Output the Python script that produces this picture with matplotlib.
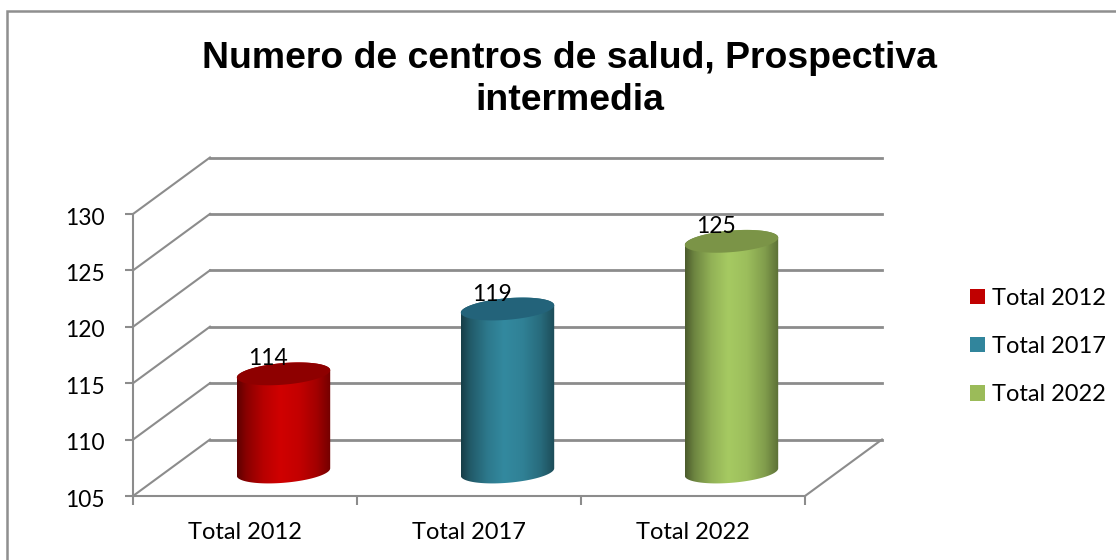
import numpy as np
import matplotlib
matplotlib.use("Agg")
import matplotlib.pyplot as plt
from matplotlib.path import Path
from matplotlib.patches import PathPatch, Patch, Rectangle
from matplotlib.colors import to_rgb
from matplotlib.transforms import offset_copy, ScaledTranslation

# ---- data ----
categories = ["Total 2012", "Total 2017", "Total 2022"]
values = [113.7, 119.45, 125.45]
y_ticks = [105, 110, 115, 120, 125, 130]
title = "Numero de centros de salud, Prospectiva\nintermedia"

# ---- styles ----
body_colors = ["#d00000", "#33899f", "#a6ca62"]
cap_colors = ["#8e0000", "#23637a", "#7b9447"]
legend_colors = ["#c00000", "#31859c", "#9bbb59"]
GRID = "#8c8c8c"
W, H = 1116, 560
L, R, B, T = 133, 805, 496, 214   # front plane, px
DEPTH = (77, 56.5)
CYL = (38.5, 24)

plt.rcParams["font.family"] = ["Lato", "DejaVu Sans"]
fig = plt.figure(figsize=(W / 100, H / 100), dpi=100, facecolor="white")
ax = fig.add_axes([L / W, 1 - B / H, (R - L) / W, (B - T) / H])
ax.patch.set_visible(False)
ax.set_axisbelow(True)

# outer frame
fig.add_artist(Rectangle((7 / W, -0.1), 1.2, 1.1 - 11 / H, transform=fig.transFigure,
                         fill=False, ec="#8f8f8f", lw=1.8))

xlim = (-0.5, len(categories) - 0.5)
ylim = (y_ticks[0], y_ticks[-1])
back = offset_copy(ax.transData, fig, x=DEPTH[0], y=DEPTH[1], units="dots")
cyl = offset_copy(ax.transData, fig, x=CYL[0], y=CYL[1], units="dots")

# 3-D walls
px_x = (R - L) / (xlim[1] - xlim[0])
px_y = (B - T) / (ylim[1] - ylim[0])
dx, dy = DEPTH[0] / px_x, DEPTH[1] / px_y
for v in y_ticks:
    ax.plot(xlim, [v, v], color=GRID, lw=2.0, transform=back, clip_on=False, zorder=1)
    ax.plot([xlim[0], xlim[0] + dx], [v, v + dy], color=GRID, lw=1.5, clip_on=False, zorder=1)
ax.plot([xlim[1], xlim[1] + dx], [ylim[0], ylim[0] + dy], color=GRID, lw=1.5, clip_on=False, zorder=1)

# cylinders
half_w = 46.7 / px_x
b = 10.8 / px_y
k = 3.7 / px_y
t = np.linspace(0, 2 * np.pi, 121)


def ellipse(cx, cy):
    return cx + half_w * np.cos(t), cy + b * np.sin(t) + k * np.cos(t)


stops = np.array([0, 0.1, 0.28, 0.46, 0.66, 0.85, 1])
gains = np.array([0.45, 0.66, 0.88, 1.0, 0.94, 0.78, 0.55])
ramp = np.interp(np.linspace(0, 1, 256), stops, gains)
for i, v in enumerate(values):
    xt, yt = ellipse(i, v)
    lower = t[(t >= np.pi)]
    xs_low = i + half_w * np.cos(lower)
    ys_low = ylim[0] + b * np.sin(lower) + k * np.cos(lower)
    upper = t[(t <= np.pi)]
    xs_up = i + half_w * np.cos(upper)
    ys_up = v + b * np.sin(upper) + k * np.cos(upper)
    verts = np.column_stack([np.r_[xs_low, xs_up], np.r_[ys_low, ys_up]])
    body = PathPatch(Path(np.vstack([verts, verts[0]]), closed=True), transform=cyl,
                     fc="none", ec="none")
    ax.add_patch(body)
    img = ramp[None, :, None] * np.array(to_rgb(body_colors[i]))[None, None, :]
    im = ax.imshow(np.clip(img, 0, 1), extent=[i - half_w, i + half_w, ylim[0] - 2, v + 2],
                   aspect="auto", transform=cyl, zorder=3, interpolation="bilinear")
    im.set_clip_path(body)
    ax.fill(xt, yt, color=cap_colors[i], lw=0, transform=cyl, zorder=4, clip_on=False)
    ax.annotate(f"{v:.0f}", (i, v), xycoords=cyl, xytext=(-16, 15), textcoords="offset pixels",
                ha="center", va="center", fontsize=16.5, color="black", zorder=5)

ax.set_xlim(xlim)
ax.set_ylim(ylim)

# axes
for s in ("top", "right"):
    ax.spines[s].set_visible(False)
for s in ("left", "bottom"):
    ax.spines[s].set_color(GRID)
    ax.spines[s].set_linewidth(1.5)
ax.set_yticks(y_ticks)
ax.set_xticks(np.arange(xlim[0], xlim[1] + 0.5, 1))
ax.set_xticklabels([])
ax.set_xticks(range(len(categories)), categories, minor=True)
ax.tick_params(axis="x", which="major", length=6.5, width=1.5, color=GRID)
ax.tick_params(axis="x", which="minor", length=0, labelsize=17, pad=18.7)
ax.tick_params(axis="y", length=6, width=1.5, color=GRID, labelsize=16.4, pad=14)
shift = ScaledTranslation(0, -2 / 100, fig.dpi_scale_trans)
for lab in ax.get_yticklabels():
    lab.set_transform(lab.get_transform() + shift)

# legend
handles = [Patch(fc=c, ec="none", label=n) for c, n in zip(legend_colors, categories)]
fig.legend(handles=handles, loc="center left", bbox_to_anchor=(970 / W, 1 - 346.5 / H),
           frameon=False, fontsize=17, handlelength=0.635, handleheight=0.635,
           handletextpad=0.3, labelspacing=1.16, borderpad=0, borderaxespad=0)

fig.text(570 / W, 1 - 79.5 / H, title, ha="center", va="center", family="Liberation Sans",
         fontweight="bold", fontsize=26.9, linespacing=1.235)

fig.savefig("out.png", dpi=100, facecolor="white")
